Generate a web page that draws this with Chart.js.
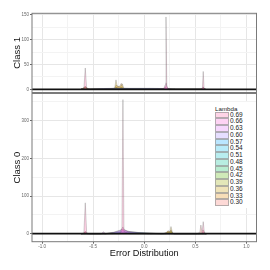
<!DOCTYPE html>
<html>
<head>
<meta charset="utf-8">
<script src="https://cdn.jsdelivr.net/npm/chart.js@4/dist/chart.umd.min.js"></script>
<style>
  html, body { margin: 0; padding: 0; background: #fff; }
  #wrap { position: relative; width: 270px; height: 270px; overflow: hidden; font-family: 'Liberation Sans', Arial, sans-serif; }
  #wrap canvas { position: absolute; left: 0; top: 0; }
  #legend { position: absolute; left: 211px; top: 102px; width: 45px; height: 106px; background: #fff; color: #1a1a1a; }
  #legend .lt { position: absolute; left: 4px; top: 2px; font-size: 6.2px; line-height: 10px; height: 10px; }
  #legend .row { position: absolute; left: 4px; height: 6.75px; line-height: 6.75px; font-size: 6.5px; white-space: nowrap; color: #1a1a1a; }
  #legend .key { display: inline-block; vertical-align: top; width: 14px; height: 6.75px; box-sizing: border-box; border: 0.5px solid rgba(150,150,150,0.7); margin-right: 1px; }
</style>
</head>
<body>
<div id="wrap">
  <canvas id="class1" width="270" height="270"></canvas>
  <canvas id="class0" width="270" height="270"></canvas>
  <div id="legend"></div>
</div>
<script>
const lambdas = ['0.69', '0.66', '0.63', '0.60', '0.57', '0.54', '0.51', '0.48', '0.45', '0.42', '0.39', '0.36', '0.33', '0.30'];
const colors = ['#FF66A8', '#FB61D7', '#DF70F8', '#A58AFF', '#06A4FF', '#00B6EB', '#00BFC4', '#00C094', '#00BC56', '#53B400', '#99A800', '#C49A00', '#E38900', '#F8766D'];

const xMajor = [-1, -0.5, 0, 0.5, 1];
const xMinor = [-0.75, -0.25, 0.25, 0.75];
const class1YMajor = [0, 50, 100, 150];
const class1YMinor = [25, 75, 125];
const class0YMajor = [0, 100, 200, 300];
const class0YMinor = [50, 150, 250, 350];

// Class 1 densities (one row per lambda, same order as lambdas)
const class1X = [-0.62, -0.592, -0.578, -0.564, -0.54, -0.40, -0.29, -0.277, -0.265, -0.245, -0.225, -0.215, -0.20, 0.05, 0.19, 0.205, 0.213, 0.221, 0.235, 0.30, 0.55, 0.570, 0.578, 0.586, 0.60];
const class1Y = [
  [0, 0, 43, 0, 0, 0, 0, 0, 0, 0, 0, 0, 0, 0, 0, 5, 146, 6, 0, 0, 0, 3, 36, 2, 0],
  [0, 0, 4, 0, 0, 0, 0, 0, 0, 0, 0, 0, 0, 0, 1, 9, 13, 7, 1, 0, 0, 1, 5, 1, 0],
  [0, 0, 0, 0, 0, 1, 1, 1, 1, 1, 1, 1, 1, 1, 1, 3, 4, 2, 1, 0, 0, 0, 1, 0, 0],
  [0, 0, 0, 0, 0, 1.5, 2, 2, 2, 2, 2, 2, 2, 2, 1.5, 1.5, 2, 1.5, 1, 0, 0, 0, 0, 0, 0],
  [0, 0, 0, 0, 0, 1, 1.5, 1.5, 1.5, 1.5, 1.5, 1.5, 1.5, 1.5, 1, 1, 1, 1, 1, 0, 0, 0, 0, 0, 0],
  [0, 0, 0, 0, 0, 1, 1, 1, 1, 1, 1, 1, 1, 1, 1, 1, 1, 1, 0.5, 0, 0, 0, 0, 0, 0],
  [0, 0, 0, 0, 0, 0.5, 1, 1, 1, 1, 1, 1, 1, 1, 0.5, 0.5, 0.5, 0.5, 0.5, 0, 0, 0, 0, 0, 0],
  [0, 0, 0, 0, 0, 0.5, 1, 1, 1, 1, 1, 1, 1, 0.5, 0.5, 0, 0, 0, 0, 0, 0, 0, 0, 0, 0],
  [0, 0, 0, 0, 0, 0.5, 1, 1, 1, 1, 1, 1, 1, 0.5, 0, 0, 0, 0, 0, 0, 0, 0, 0, 0, 0],
  [0, 0, 1, 0, 0, 0, 0, 1, 1, 1, 1, 1, 0, 0, 0, 0, 0, 0, 0, 0, 0, 0, 0, 0, 0],
  [0, 1, 2, 1, 0, 0, 1, 4, 3, 2, 4, 3, 1, 0, 0, 0, 0, 0, 0, 0, 0, 0, 0, 0, 0],
  [0, 3, 5, 3, 0, 0, 2, 19, 6, 5, 7, 11, 2, 0, 0, 0, 0, 0, 0, 0, 0, 0, 0, 0, 0],
  [0, 3, 6, 3, 0, 0, 2, 8, 7, 5, 12, 6, 1, 0, 0, 0, 0, 0, 0, 0, 0, 0, 0, 0, 0],
  [0, 2, 5, 2, 0, 0, 1, 3, 3, 2, 3, 2, 0, 0, 0, 0, 0, 0, 0, 0, 0, 1, 4, 1, 0]
];

// Class 0 densities
const class0X = [-0.62, -0.592, -0.578, -0.564, -0.54, -0.42, -0.40, -0.38, -0.30, -0.24, -0.219, -0.209, -0.199, -0.15, -0.05, 0.05, 0.18, 0.215, 0.232, 0.25, 0.262, 0.275, 0.29, 0.52, 0.545, 0.555, 0.565, 0.578, 0.59, 0.61];
const class0Y = [
  [0, 0, 82, 0, 0, 0, 0, 0, 0, 0, 8, 356, 6, 0, 0, 0, 0, 0, 0, 0, 0, 0, 0, 0, 0, 0, 0, 32, 0, 0],
  [0, 1, 6, 1, 0, 0, 0, 0, 0, 3, 14, 18, 12, 3, 0, 0, 0, 0, 0, 0, 0, 0, 0, 0, 0, 2, 1, 5, 1, 0],
  [0, 0, 0, 0, 0, 0, 5, 0, 3, 8, 12, 12, 10, 6, 2, 0, 0, 0, 0, 0, 0, 0, 0, 0, 0, 0, 0, 0, 0, 0],
  [0, 0, 0, 0, 0, 0, 2, 0, 4, 9, 10, 10, 9, 6, 3, 1, 0, 0, 0, 0, 0, 0, 0, 0, 0, 0, 0, 0, 0, 0],
  [0, 0, 0, 0, 0, 0, 1, 0, 3, 6, 7, 7, 7, 5, 3, 2, 0, 0, 0, 0, 0, 0, 0, 0, 0, 0, 0, 0, 0, 0],
  [0, 0, 0, 0, 0, 0, 0, 0, 2, 4, 5, 5, 5, 4, 2, 1, 0, 0, 0, 0, 0, 0, 0, 0, 0, 0, 0, 0, 0, 0],
  [0, 0, 0, 0, 0, 0, 0, 0, 1, 2, 3, 3, 3, 2, 1, 1, 0, 0, 0, 0, 0, 0, 0, 0, 0, 0, 0, 0, 0, 0],
  [0, 0, 0, 0, 0, 0, 0, 0, 1, 2, 2, 2, 2, 2, 1, 0.5, 0, 0, 0, 0, 0, 0, 0, 0, 0, 0, 0, 0, 0, 0],
  [0, 0, 0, 0, 0, 0, 0, 0, 1, 1, 1, 1, 1, 1, 1, 0, 0, 0, 0, 0, 0, 0, 0, 0, 0, 0, 0, 0, 0, 0],
  [0, 0, 0, 0, 0, 0, 0, 0, 0, 0, 0, 0, 0, 0, 0, 0, 0, 0, 1, 1, 1, 0, 0, 0, 0, 0, 0, 0, 0, 0],
  [0, 0, 0, 0, 0, 0, 0, 0, 0, 0, 0, 0, 0, 0, 0, 0, 0, 1, 4, 3, 8, 2, 0, 0, 0, 0, 0, 0, 0, 0],
  [0, 0, 0, 0, 0, 0, 0, 0, 0, 0, 0, 0, 0, 0, 0, 0, 0, 2, 7, 5, 19, 4, 0, 0, 0, 0, 0, 0, 0, 0],
  [0, 1, 4, 1, 0, 0, 0, 0, 0, 0, 0, 0, 0, 0, 0, 0, 0, 3, 8, 5, 10, 2, 0, 0, 0, 0, 0, 0, 0, 0],
  [0, 2, 5, 2, 0, 0, 0, 0, 0, 0, 0, 0, 0, 0, 0, 0, 0, 1, 2, 1, 3, 1, 0, 0, 4, 23, 6, 10, 3, 0]
];

const FONT = "'Liberation Sans', Arial, sans-serif";

function withAlpha(hex, a) {
  const n = parseInt(hex.slice(1), 16);
  return `rgba(${n >> 16}, ${(n >> 8) & 255}, ${n & 255}, ${a})`;
}

// panel border + black zero line, like the ggplot facet panels
const panelFrame = {
  id: 'panelFrame',
  afterDatasetsDraw(chart) {
    const { ctx, chartArea: a, scales: { y } } = chart;
    const y0 = y.getPixelForValue(0);
    ctx.save();
    ctx.strokeStyle = '#111';
    ctx.lineWidth = 1.7;
    ctx.beginPath();
    ctx.moveTo(a.left, y0);
    ctx.lineTo(a.right, y0);
    ctx.stroke();
    ctx.strokeStyle = '#7a7a7a';
    ctx.lineWidth = 1;
    ctx.strokeRect(a.left, a.top, a.right - a.left, a.bottom - a.top);
    ctx.restore();
  }
};

function gridOpts(majors) {
  return {
    color: c => majors.includes(c.tick && c.tick.value) ? '#e6e6e6' : '#f3f3f3',
    tickColor: c => majors.includes(c.tick && c.tick.value) ? '#666' : 'rgba(0,0,0,0)',
    tickLength: 2,
    lineWidth: 1
  };
}

function makePanel(id, xs, rows, yMin, yMax, yMajor, yMinor, title, showX) {
  const datasets = rows.map((row, i) => ({
    label: lambdas[i],
    data: row.map((v, j) => ({ x: xs[j], y: v })),
    fill: 'origin',
    backgroundColor: withAlpha(colors[i], 0.3),
    borderColor: 'rgba(90, 90, 90, 0.45)',
    borderWidth: 0.6,
    pointRadius: 0,
    tension: 0
  }));

  const xGrid = gridOpts(xMajor);
  if (!showX) xGrid.drawTicks = false;

  return new Chart(document.getElementById(id), {
    type: 'line',
    data: { datasets },
    plugins: [panelFrame],
    options: {
      responsive: false,
      animation: false,
      devicePixelRatio: 1,
      layout: {
        padding: showX
          ? { top: 93.5, bottom: 11.5, left: 0, right: 13.5 }
          : { top: 13.3, bottom: 177.5, left: 0, right: 13.5 }
      },
      plugins: { legend: { display: false }, tooltip: { enabled: false } },
      scales: {
        x: {
          type: 'linear',
          min: -1.1,
          max: 1.1,
          afterBuildTicks: s => { s.ticks = xMajor.concat(xMinor).sort((a, b) => a - b).map(v => ({ value: v })); },
          afterFit: s => { s.height = showX ? 16.8 : 0; },
          border: { display: false },
          grid: xGrid,
          ticks: {
            display: showX,
            autoSkip: false,
            maxRotation: 0,
            padding: 0,
            color: '#666',
            font: { family: FONT, size: 4.5 },
            callback: v => xMajor.includes(v) ? v.toFixed(1) : ''
          },
          title: {
            display: showX,
            text: 'Error Distribution',
            color: '#111',
            padding: { top: 0, bottom: 0 },
            font: { family: FONT, size: 9.2 }
          }
        },
        y: {
          min: yMin,
          max: yMax,
          afterBuildTicks: s => { s.ticks = yMajor.concat(yMinor).sort((a, b) => a - b).map(v => ({ value: v })); },
          afterFit: s => { s.width = 32; },
          border: { display: false },
          grid: gridOpts(yMajor),
          ticks: {
            autoSkip: false,
            padding: 1,
            color: '#666',
            font: { family: FONT, size: 4.5 },
            callback: v => yMajor.includes(v) ? String(v) : ''
          },
          title: {
            display: true,
            text: title,
            color: '#111',
            padding: { top: 11.3, bottom: 0 },
            font: { family: FONT, size: 9.5 }
          }
        }
      }
    }
  });
}

makePanel('class1', class1X, class1Y, -6.5, 153.4, class1YMajor, class1YMinor, 'Class 1', false);
makePanel('class0', class0X, class0Y, -21.2, 372.2, class0YMajor, class0YMinor, 'Class 0', true);

// legend (inside the lower panel, top right)
const legend = document.getElementById('legend');
let html = '<div class="lt">Lambda</div>';
lambdas.forEach((l, i) => {
  html += `<div class="row" style="top:${9.6 + 6.75 * i}px"><span class="key" style="background:${withAlpha(colors[i], 0.28)}"></span>${l}</div>`;
});
legend.innerHTML = html;
</script>
</body>
</html>
